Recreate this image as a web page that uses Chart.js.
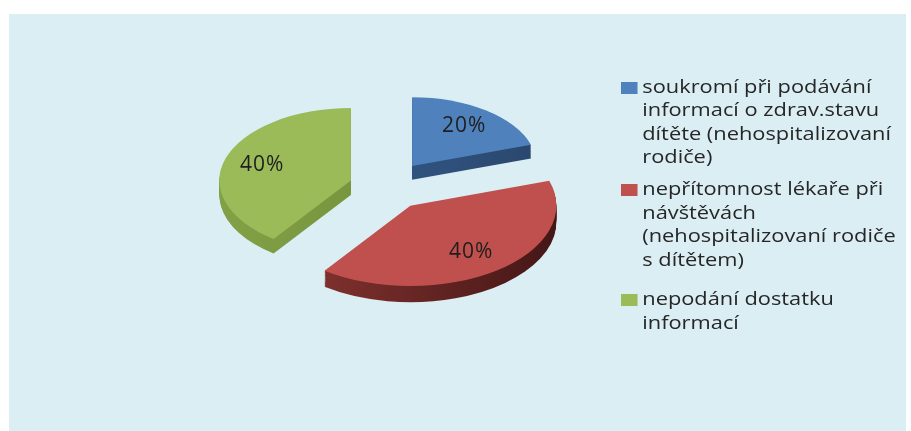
<!DOCTYPE html>
<html>
<head>
<meta charset="utf-8">
<script src="https://cdn.jsdelivr.net/npm/chart.js@4/dist/chart.umd.min.js"></script>
<style>
  html, body { margin: 0; padding: 0; background: #ffffff; }
  body { width: 911px; height: 431px; position: relative; overflow: hidden; }
  #panel { position: absolute; left: 9px; top: 14px; width: 897px; height: 417px; background: #dbeef4; }
  #pie { position: absolute; left: 0; top: 0; }
  #legend {
    position: absolute; left: 612px; top: 0;
    transform: scaleX(1.18); transform-origin: 0 0;
    font-family: "Open Sans", sans-serif; font-size: 18.5px; line-height: 23.5px; color: #262626;
  }
  .item { position: absolute; left: 0; white-space: nowrap; }
  .item .box { position: absolute; left: 0; top: 8px; width: 13.5px; height: 12px; }
  .item .txt { position: absolute; left: 18px; top: 0; }
</style>
</head>
<body>
<div id="panel">
  <canvas id="pie" width="897" height="417"></canvas>
  <div id="legend"></div>
</div>
<script>
// answers, one line per array entry (legend wraps exactly like this)
var categories = [
  ['soukromí při podávání', 'informací o zdrav.stavu', 'dítěte (nehospitalizovaní', 'rodiče)'],
  ['nepřítomnost lékaře při', 'návštěvách', '(nehospitalizovaní rodiče', 's dítětem)'],
  ['nepodání dostatku', 'informací']
];
var shares = [20, 40, 40];

var sliceColors = ['#4f81bd', '#c0504d', '#9bbb59'];
// wall shading, left -> right
var wallColors = [['#36608f', '#2a476e'], ['#8c3633', '#441716'], ['#82a146', '#6e8a37']];

// fake 3d look
var TILT = 0.55;        // squash of the pie plane
var DEPTH = 15;         // wall height in px
var PERSP = 0.096;      // slices toward the viewer get a bit bigger
var EXPLODE = [50, 40, 37];
var LABEL_POS = 0.71;   // label distance, fraction of radius

function sliceView(ctx, arc, i, dy) {
  var mid = (arc.startAngle + arc.endAngle) / 2;
  var s = 1 + PERSP * Math.sin(mid);
  var e = EXPLODE[i];
  ctx.translate(arc.x, arc.y + dy * s);
  ctx.scale(s, s * TILT);
  ctx.translate(Math.cos(mid) * e - arc.x, Math.sin(mid) * e - arc.y);
}

function drawWalls(ctx, arc, i) {
  var R = arc.outerRadius;
  for (var d = DEPTH; d >= 1; d--) {
    ctx.save();
    sliceView(ctx, arc, i, d);
    var g = ctx.createLinearGradient(arc.x - R, 0, arc.x + R, 0);
    g.addColorStop(0, wallColors[i][0]);
    g.addColorStop(1, wallColors[i][1]);
    ctx.fillStyle = g;
    ctx.beginPath();
    ctx.moveTo(arc.x, arc.y);
    ctx.arc(arc.x, arc.y, R, arc.startAngle, arc.endAngle);
    ctx.closePath();
    ctx.fill();
    ctx.restore();
  }
}

var pie3d = {
  id: 'pie3d',
  beforeDatasetDraw: function(chart, args) {
    var ctx = chart.ctx;
    var arcs = args.meta.data;
    arcs.forEach(function(arc, i) { drawWalls(ctx, arc, i); });
    arcs.forEach(function(arc, i) {
      ctx.save();
      sliceView(ctx, arc, i, 0);
      arc.draw(ctx);
      ctx.restore();
    });
    return false;
  },
  afterDatasetsDraw: function(chart) {
    var ctx = chart.ctx;
    var data = chart.data.datasets[0].data;
    var total = data.reduce(function(a, b) { return a + b; }, 0);
    ctx.save();
    ctx.font = '21px "Open Sans", sans-serif';
    ctx.letterSpacing = '1px';
    ctx.fillStyle = '#1e1e1e';
    ctx.textAlign = 'center';
    ctx.textBaseline = 'middle';
    chart.getDatasetMeta(0).data.forEach(function(arc, i) {
      var mid = (arc.startAngle + arc.endAngle) / 2;
      var s = 1 + PERSP * Math.sin(mid);
      var r = EXPLODE[i] + LABEL_POS * arc.outerRadius;
      var x = arc.x + s * Math.cos(mid) * r;
      var y = arc.y + s * TILT * Math.sin(mid) * r;
      ctx.fillText(Math.round(data[i] / total * 100) + '%', x, y);
    });
    ctx.restore();
  }
};

var ctx = document.getElementById('pie').getContext('2d');
var myChart = new Chart(ctx, {
  type: 'pie',
  data: {
    labels: categories,
    datasets: [{
      data: shares,
      backgroundColor: sliceColors,
      borderWidth: 0,
      radius: 135.5
    }]
  },
  options: {
    responsive: false,
    animation: false,
    devicePixelRatio: 1,
    events: [],
    layout: { padding: { left: 0, right: 145, top: 0, bottom: 72 } },
    plugins: {
      legend: { display: false },
      tooltip: { enabled: false }
    }
  },
  plugins: [pie3d]
});

// legend on the right, one block per answer
var legendTops = [59.5, 162, 272];
var legend = document.getElementById('legend');
categories.forEach(function(lines, i) {
  var item = document.createElement('div');
  item.className = 'item';
  item.style.top = legendTops[i] + 'px';
  var box = document.createElement('div');
  box.className = 'box';
  box.style.background = sliceColors[i];
  var txt = document.createElement('div');
  txt.className = 'txt';
  txt.innerHTML = lines.join('<br>');
  item.appendChild(box);
  item.appendChild(txt);
  legend.appendChild(item);
});
</script>
</body>
</html>
